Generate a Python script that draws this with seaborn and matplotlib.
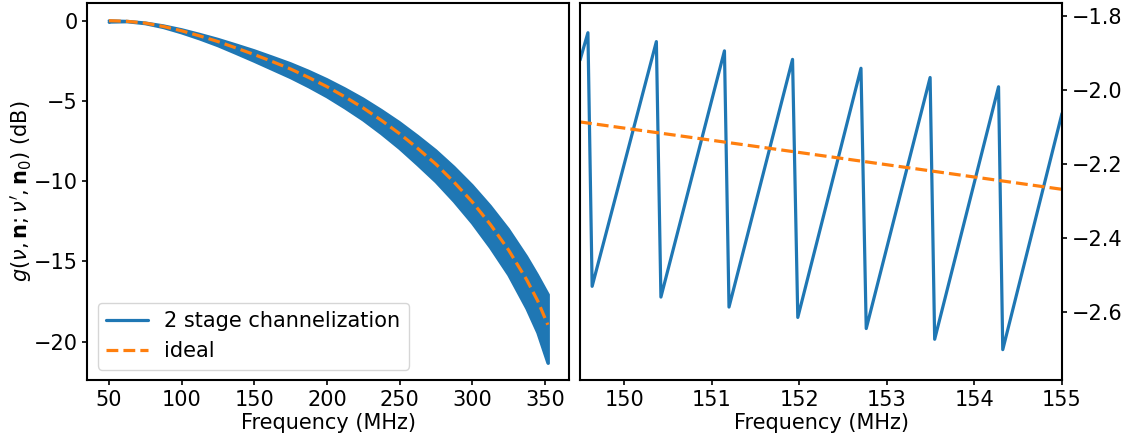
import numpy as np
import pandas as pd
import seaborn as sns
import matplotlib
matplotlib.use("Agg")
import matplotlib.pyplot as plt
from matplotlib.lines import Line2D

# ---------------- data ----------------
# Left panel: envelope of the dense 2-stage channelization sawtooth + ideal curve
freq_full = [50, 62.5, 75, 87.5, 100, 112.5, 125, 137.5, 150, 162.5, 175, 187.5, 200,
             212.5, 225, 237.5, 250, 262.5, 275, 287.5, 300, 312.5, 325, 337.5, 345, 352]
ideal_full = [0.0, -0.04, -0.15, -0.36, -0.63, -0.95, -1.30, -1.70, -2.11, -2.55, -3.01, -3.54, -4.11,
              -4.75, -5.44, -6.21, -7.04, -7.96, -8.94, -10.06, -11.29, -12.70, -14.29, -16.15, -17.45, -18.95]
upper_full = [0.0, -0.03, -0.13, -0.31, -0.55, -0.84, -1.15, -1.50, -1.86, -2.26, -2.67, -3.14, -3.66,
              -4.24, -4.87, -5.58, -6.34, -7.19, -8.09, -9.12, -10.26, -11.55, -13.00, -14.70, -15.85, -17.0]
lower_full = [-0.10, -0.08, -0.20, -0.44, -0.77, -1.15, -1.57, -2.05, -2.54, -3.05, -3.56, -4.13, -4.75,
              -5.45, -6.20, -7.05, -7.97, -8.99, -10.05, -11.27, -12.62, -14.15, -15.85, -17.95, -19.45, -21.35]

# Right panel: zoom on 149.5-155 MHz
freq_zoom = [149.493, 149.583, 149.631, 150.365, 150.417, 151.143, 151.195, 151.921, 151.981,
             152.703, 152.763, 153.493, 153.545, 154.275, 154.323, 155.0]
chan_zoom = [-1.919, -1.845, -2.530, -1.869, -2.559, -1.894, -2.586, -1.917, -2.614,
             -1.941, -2.644, -1.966, -2.673, -1.991, -2.701, -2.063]
freq_ideal_zoom = [149.493, 152.5, 155.0]
ideal_zoom = [-2.086, -2.185, -2.268]

label_chan = "2 stage channelization"
label_ideal = "ideal"
xlabel = "Frequency (MHz)"
ylabel = r"$g(\nu, \mathbf{n}; \nu', \mathbf{n}_0)$ (dB)"

# ---------------- style ----------------
sns.set_style("ticks", {"axes.edgecolor": "black", "xtick.color": "black", "ytick.color": "black"})
plt.rcParams["font.family"] = ["DejaVu Sans"]
FS = 15
plt.rcParams.update({
    "font.size": FS, "axes.labelsize": FS, "xtick.labelsize": FS, "ytick.labelsize": FS,
    "legend.fontsize": FS, "axes.linewidth": 1.5, "xtick.major.width": 1.2,
    "ytick.major.width": 1.2, "xtick.major.size": 3.5, "ytick.major.size": 3.5,
    "text.color": "black", "axes.labelcolor": "black",
})

blue = "#1f77b4"
orange = "#ff7f0e"
LW = 2.3

fig = plt.figure(figsize=(11.25, 4.38), dpi=100)
ax1 = fig.add_axes([0.0776, 0.1324, 0.4282, 0.8614])
ax2 = fig.add_axes([0.5156, 0.1324, 0.4284, 0.8614])

# ---------------- left panel ----------------
df_full = pd.DataFrame({"freq": freq_full, "ideal": ideal_full,
                        "upper": upper_full, "lower": lower_full})
ax1.fill_between(df_full["freq"], df_full["lower"], df_full["upper"], color=blue, lw=0)
sns.lineplot(data=df_full, x="freq", y="upper", ax=ax1, color=blue, lw=2.0)
sns.lineplot(data=df_full, x="freq", y="lower", ax=ax1, color=blue, lw=2.0)
ax1.plot([freq_full[0]] * 2, [lower_full[0], upper_full[0]], color=blue, lw=2.0)
ax1.plot([freq_full[-1]] * 2, [lower_full[-1], upper_full[-1]], color=blue, lw=2.0)
sns.lineplot(data=df_full, x="freq", y="ideal", ax=ax1, color=orange, lw=LW, linestyle="--")

ax1.set_xlim(35.1, 366.6)
ax1.set_ylim(-22.39, 1.12)
ax1.set_xticks([50, 100, 150, 200, 250, 300, 350])
ax1.set_yticks([0, -5, -10, -15, -20])
ax1.set_xlabel(xlabel, labelpad=2)
ax1.set_ylabel(ylabel, labelpad=0)

handles = [Line2D([0], [0], color=blue, lw=LW), Line2D([0], [0], color=orange, lw=LW, linestyle="--")]
ax1.legend(handles, [label_chan, label_ideal], loc="lower left", frameon=True)

# ---------------- right panel ----------------
df_zoom = pd.DataFrame({"freq": freq_zoom, "chan": chan_zoom})
df_iz = pd.DataFrame({"freq": freq_ideal_zoom, "ideal": ideal_zoom})
sns.lineplot(data=df_zoom, x="freq", y="chan", ax=ax2, color=blue, lw=LW, sort=False)
sns.lineplot(data=df_iz, x="freq", y="ideal", ax=ax2, color=orange, lw=LW, linestyle="--")
ax2.set_xlim(149.493, 155.0)
ax2.set_ylim(-2.783, -1.764)
ax2.set_xticks([150, 151, 152, 153, 154, 155])
ax2.set_yticks([-1.8, -2.0, -2.2, -2.4, -2.6])
ax2.yaxis.tick_right()
ax2.set_ylabel("")
ax2.set_xlabel(xlabel, labelpad=2)

for ax in (ax1, ax2):
    for s in ax.spines.values():
        s.set_visible(True)
        s.set_color("black")
        s.set_linewidth(1.5)

fig.savefig("out.png", dpi=100)
